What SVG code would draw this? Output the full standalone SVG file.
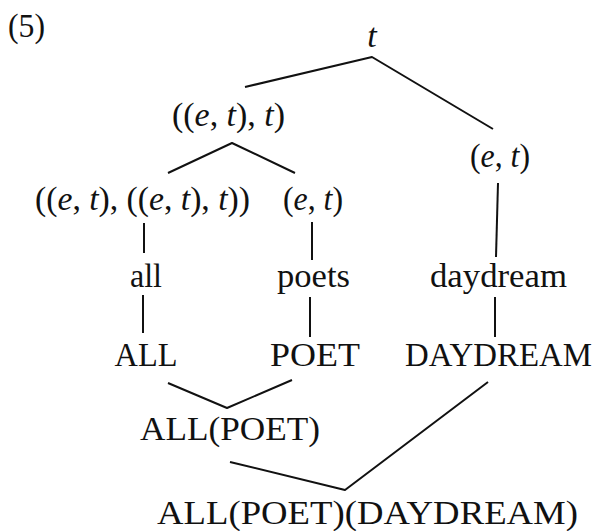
<svg xmlns="http://www.w3.org/2000/svg" width="598" height="531" viewBox="0 0 598 531">
<style>
text{font-family:"Liberation Serif","DejaVu Serif",serif;font-size:34px;fill:#111;text-anchor:middle}
.i{font-style:italic}
#edges path{fill:none;stroke:#111;stroke-width:2;stroke-linejoin:round}
</style>
<rect width="598" height="531" fill="#fff"/>
<text x="26.5" y="37" textLength="37" lengthAdjust="spacingAndGlyphs">(5)</text>
<g id="edges">
<path d="M245,87 L372,57 L493,129"/>
<path d="M168,173 L232,143 L295,173"/>
<path d="M144,223 L144,253"/>
<path d="M143,295 L143,333"/>
<path d="M312,222 L312,260"/>
<path d="M310,297 L310,337"/>
<path d="M498,183 L496,257"/>
<path d="M495,297 L495,337"/>
<path d="M168,383 L227,408 L292,380"/>
<path d="M230,462 L345,490 L488,382"/>
</g>
<g id="n_t"><text x="372" y="47" class="i">t</text></g>
<g id="n_ett_t"><text x="228.5" y="126" textLength="113" lengthAdjust="spacingAndGlyphs">((<tspan class="i">e</tspan>, <tspan class="i">t</tspan>), <tspan class="i">t</tspan>)</text></g>
<g id="n_et_right"><text x="500" y="167" textLength="60" lengthAdjust="spacingAndGlyphs">(<tspan class="i">e</tspan>, <tspan class="i">t</tspan>)</text></g>
<g id="n_det"><text x="142.5" y="210" textLength="215" lengthAdjust="spacingAndGlyphs">((<tspan class="i">e</tspan>, <tspan class="i">t</tspan>), ((<tspan class="i">e</tspan>, <tspan class="i">t</tspan>), <tspan class="i">t</tspan>))</text></g>
<g id="n_et_mid"><text x="313" y="210" textLength="60" lengthAdjust="spacingAndGlyphs">(<tspan class="i">e</tspan>, <tspan class="i">t</tspan>)</text></g>
<g id="n_all"><text x="146" y="287" textLength="32" lengthAdjust="spacingAndGlyphs">all</text></g>
<g id="n_poets"><text x="313.5" y="287" textLength="73" lengthAdjust="spacingAndGlyphs">poets</text></g>
<g id="n_daydream"><text x="498.5" y="287" textLength="137" lengthAdjust="spacingAndGlyphs">daydream</text></g>
<g id="n_ALL"><text x="146" y="366" textLength="63" lengthAdjust="spacingAndGlyphs">ALL</text></g>
<g id="n_POET"><text x="315" y="366" textLength="90" lengthAdjust="spacingAndGlyphs">POET</text></g>
<g id="n_DAYDREAM"><text x="498.5" y="366" textLength="187" lengthAdjust="spacingAndGlyphs">DAYDREAM</text></g>
<g id="n_allpoet"><text x="230" y="440" textLength="180" lengthAdjust="spacingAndGlyphs">ALL(POET)</text></g>
<g id="n_final"><text x="367.5" y="524" textLength="421" lengthAdjust="spacingAndGlyphs">ALL(POET)(DAYDREAM)</text></g>
</svg>
